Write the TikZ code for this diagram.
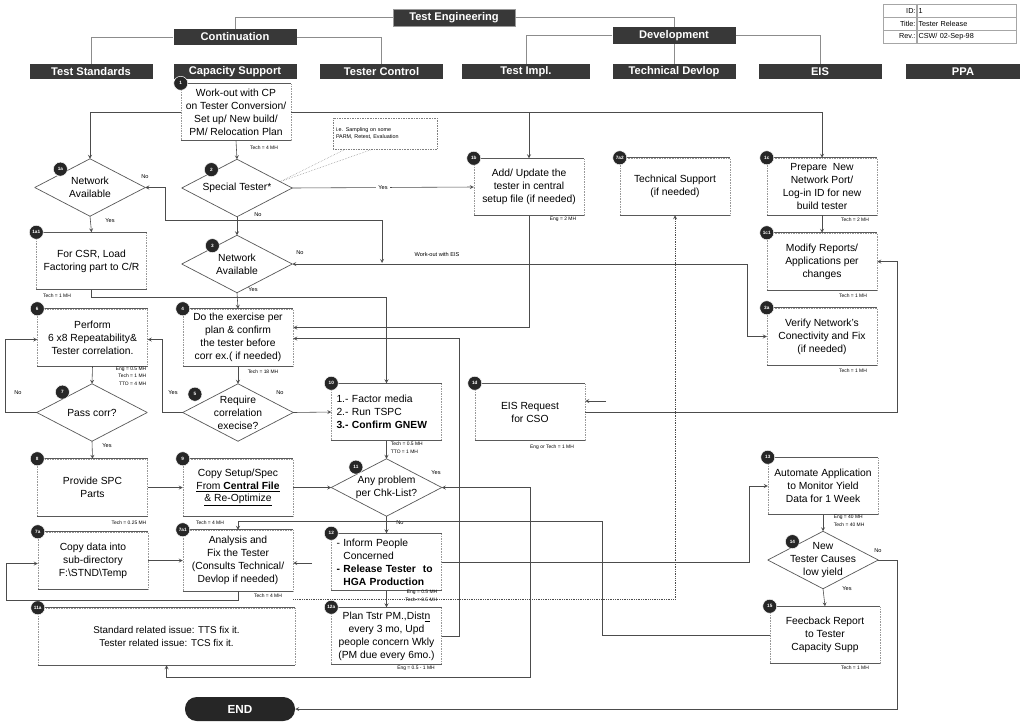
\documentclass[tikz,border=0pt]{standalone}
\usepackage{fontspec}
\setmainfont{Liberation Sans}
\usetikzlibrary{calc}

\begin{document}
\begin{tikzpicture}[x=0.03cm, y=-0.03cm,
    every node/.style={font=\fontsize{8.8}{11}\selectfont},
    hdr/.style={fill=black!78, text=white, font=\fontsize{9.5}{11}\selectfont\bfseries,
      minimum width=123*0.03cm, minimum height=15*0.03cm, inner sep=0pt},
    orgline/.style={draw=black!45, line width=0.5pt},
    boxrule/.style={draw=black!65, solid, line width=0.7pt},
    procbox/.style={rectangle, draw=black!40, densely dotted, line width=0.4pt,
      minimum width=110*0.03cm, minimum height=57*0.03cm, inner sep=1pt, align=center,
      append after command={(\tikzlastnode.north west) edge[boxrule] (\tikzlastnode.north east)
        (\tikzlastnode.south west) edge[boxrule] (\tikzlastnode.south east)}},
    diamrule/.style={draw=black!65, solid, line width=0.6pt},
    decision/.style={rectangle, minimum width=110*0.03cm, minimum height=57*0.03cm,
      inner sep=0pt, align=center,
      append after command={(\tikzlastnode.north) edge[diamrule] (\tikzlastnode.east)
        (\tikzlastnode.east) edge[diamrule] (\tikzlastnode.south)
        (\tikzlastnode.south) edge[diamrule] (\tikzlastnode.west)
        (\tikzlastnode.west) edge[diamrule] (\tikzlastnode.north)}},
    badge/.style={circle, fill=black!85, draw=white, line width=0.4pt, text=white,
      font=\fontsize{4}{4}\selectfont\bfseries, minimum size=14*0.03cm, inner sep=0pt},
    mh/.style={font=\fontsize{4.2}{6.6}\selectfont, inner sep=0.5pt, align=right},
    ans/.style={font=\fontsize{4.8}{5.5}\selectfont, inner sep=0.5pt},
    flow/.style={draw=black!70, line width=0.5pt, -stealth},
    techlink/.style={flow, densely dotted},
    notebox/.style={draw=black!50, densely dotted, align=left, inner sep=2pt,
      minimum width=104*0.03cm, minimum height=31*0.03cm, font=\fontsize{4.6}{6}\selectfont},
    cell/.style={draw=black!35, line width=0.4pt, minimum height=13*0.03cm, inner sep=1pt,
      font=\fontsize{6.2}{7}\selectfont},
    endpill/.style={fill=black!85, text=white, font=\fontsize{10}{12}\selectfont\bfseries,
      minimum width=110*0.03cm, minimum height=24*0.03cm, rounded corners=0.35cm},
  ]
  \fill[white] (0,0) rectangle (1020,721);
  \useasboundingbox (0,0) rectangle (1020,721);

  % organisation headers
  \node[hdr, minimum width=122*0.03cm, minimum height=17*0.03cm, draw=black!40] (te) at (454,17.5) {Test Engineering};
  \node[hdr, minimum height=16*0.03cm] (cont) at (235,37) {Continuation};
  \node[hdr, minimum height=17*0.03cm] (dev) at (674,35.5) {Development};
  \node[hdr] (ts) at (91,71.5) {Test Standards};
  \node[hdr] (cs) at (235,71.5) {Capacity Support};
  \node[hdr] (tc) at (381.5,71.5) {Tester Control};
  \node[hdr, minimum width=128*0.03cm] (ti) at (526,71.5) {Test Impl.};
  \node[hdr] (td) at (674,71.5) {Technical Devlop};
  \node[hdr] (eis) at (820,71.5) {EIS};
  \node[hdr, minimum width=114*0.03cm] (ppa) at (963,71.5) {PPA};
  \draw[orgline] (te.west) -| (cont.north);
  \draw[orgline] (te.east) -| (dev.north);
  \draw[orgline] (cont.west) -| (ts.north);
  \draw[orgline] (cont.east) -| (tc.north);
  \draw[orgline] (dev.west) -| (ti.north);
  \draw[orgline] (dev.east) -| (eis.north);
  \draw[orgline] (dev.south) -- (td.north);

  % title block
  \node[cell, text width=31*0.03cm, align=right] (idl) at (900,10.5) {ID:};
  \node[cell, text width=97*0.03cm, align=left] (idv) at (967,10.5) {1};
  \node[cell, text width=31*0.03cm, align=right] (til) at (900,23.5) {Title:};
  \node[cell, text width=97*0.03cm, align=left] (tiv) at (967,23.5) {Tester Release};
  \node[cell, text width=31*0.03cm, align=right] (rvl) at (900,36.5) {Rev.:};
  \node[cell, text width=97*0.03cm, align=left] (rvv) at (967,36.5) {CSW/ 02-Sep-98};

  % steps
  \node[procbox] (n1) at (236,112) {Work-out with CP\\on Tester Conversion/\\Set up/ New build/\\PM/ Relocation Plan};
  \node[decision] (d1a) at (90,187.5) {Network\\Available};
  \node[decision] (d2) at (237,188) {Special Tester*};
  \node[procbox] (n1b) at (529,187) {Add/ Update the\\tester in central\\setup file (if needed)};
  \node[procbox] (n7a2) at (675,186.5) {Technical Support\\(if needed)};
  \node[procbox] (n1c) at (822,186.5) {Prepare\ \ New\\Network Port/\\Log-in ID for new\\build tester};
  \node[notebox, text width=98*0.03cm] (note) at (385,133.5) {i.e. Sampling on some\\PARM, Retest, Evaluation};

  \node[procbox] (n1a1) at (91.5,261) {For CSR, Load\\Factoring part to C/R};
  \node[decision] (d3) at (237,264) {Network\\Available};
  \node[procbox] (n1c1) at (822,261.5) {Modify Reports/\\Applications per\\changes};

  \node[procbox] (n6) at (92.5,337.5) {Perform\\6 x8 Repeatability\&\\Tester correlation.};
  \node[procbox] (n4) at (238,337.5) {Do the exercise per\\plan \& confirm\\the tester before\\corr ex.( if needed)};
  \node[procbox] (n3a) at (822,336.5) {Verify Network's\\Conectivity and Fix\\(if needed)};

  \node[decision] (d7) at (92,412.5) {Pass corr?};
  \node[decision] (d5) at (238,412.5) {Require\\correlation\\execise?};
  \node[procbox, align=left, text width=100*0.03cm] (n10) at (386.5,412) {1.- Factor media\\2.- Run TSPC\\\textbf{3.- Confirm GNEW}};
  \node[procbox] (n1d) at (530,412) {EIS Request\\for CSO};

  \node[procbox] (n8) at (92.5,487.5) {Provide SPC\\Parts};
  \node[procbox] (n9) at (238,487.5) {Copy Setup/Spec\\\underline{From \textbf{Central File}}\\\underline{\& Re-Optimize}};
  \node[decision] (d11) at (386.5,487.5) {Any problem\\per Chk-List?};
  \node[procbox] (n13) at (823,486) {Automate Application\\to Monitor Yield\\Data for 1 Week};

  \node[procbox] (n7a) at (93,560.5) {Copy data into\\sub-directory\\F:\textbackslash STND\textbackslash Temp};
  \node[procbox, minimum height=61*0.03cm] (n7a1) at (238,560.5) {Analysis and\\Fix the Tester\\(Consults Technical/\\Devlop if needed)};
  \node[procbox, align=left, text width=100*0.03cm] (n12) at (386.5,562) {- Inform People\\\hphantom{- }Concerned\\\textbf{- Release Tester\ \ to}\\\hphantom{- }\textbf{HGA Production}};
  \node[decision] (d14) at (823,560) {New\\Tester Causes\\low yield};

  \node[procbox, minimum width=257*0.03cm, font=\fontsize{8.4}{11}\selectfont] (n11a) at (166.5,636.5) {Standard related issue: TTS fix it.\\Tester related issue: TCS fix it.};
  \node[procbox] (n12a) at (386.5,636) {Plan Tstr PM.,Dist\underline{n}\\every 3 mo, Upd\\people concern Wkly\\(PM due every 6mo.)};
  \node[procbox] (n15) at (825,635) {Feecback Report\\to Tester\\Capacity Supp};

  \node[endpill] (end) at (240,709) {END};

  % step numbers
  \node[badge] (b1) at (n1.north west) {1};
  \node[badge] (b1a) at ($(d1a.north)!0.5!(d1a.west)+(-2,-4)$) {1a};
  \node[badge] (b2) at ($(d2.north)!0.5!(d2.west)+(2,-4)$) {2};
  \node[badge] (b1b) at (n1b.north west) {1b};
  \node[badge] (b7a2) at (n7a2.north west) {7a2};
  \node[badge] (b1c) at (n1c.north west) {1c};
  \node[badge] (b1a1) at (n1a1.north west) {1a1};
  \node[badge] (b3) at ($(d3.north)!0.5!(d3.west)+(3,-4)$) {3};
  \node[badge] (b1c1) at (n1c1.north west) {1c1};
  \node[badge] (b6) at (n6.north west) {6};
  \node[badge] (b4) at (n4.north west) {4};
  \node[badge] (b3a) at (n3a.north west) {3a};
  \node[badge] (b7) at ($(d7.north)!0.5!(d7.west)+(-2,-6)$) {7};
  \node[badge] (b5) at ($(d5.north)!0.78!(d5.west)+(0,-12)$) {5};
  \node[badge] (b10) at (n10.north west) {10};
  \node[badge] (b1d) at (n1d.north west) {1d};
  \node[badge] (b8) at (n8.north west) {8};
  \node[badge] (b9) at (n9.north west) {9};
  \node[badge] (b11) at ($(d11.north)!0.5!(d11.west)+(-3,-6)$) {11};
  \node[badge] (b13) at (n13.north west) {13};
  \node[badge] (b7a) at (n7a.north west) {7a};
  \node[badge] (b7a1) at (n7a1.north west) {7a1};
  \node[badge] (b12) at (n12.north west) {12};
  \node[badge] (b14) at ($(d14.north)!0.5!(d14.west)+(-3,-4)$) {14};
  \node[badge] (b11a) at (n11a.north west) {11a};
  \node[badge] (b12a) at (n12a.north west) {12a};
  \node[badge] (b15) at (n15.north west) {15};

  % man-hours
  \node[mh] (mh1) at (264,148) {Tech = 4 MH};
  \node[mh] (mh1b) at (563,219) {Eng = 2 MH};
  \node[mh] (mh1c) at (855,220) {Tech = 2 MH};
  \node[mh] (mh1a1) at (57,296) {Tech = 1 MH};
  \node[mh] (mh1c1) at (853,296) {Tech = 1 MH};
  \node[mh] (mh3a) at (853,371) {Tech = 1 MH};
  \node[mh, anchor=north east] (mh6) at (147,366) {Eng = 0.5 MH\\Tech = 1 MH\\TTO = 4 MH};
  \node[mh] (mh4) at (263,372) {Tech = 18 MH};
  \node[mh, anchor=north west, align=left] (mh10) at (390,441) {Tech = 0.5 MH\\TTO = 1 MH};
  \node[mh] (mh1d) at (552,447) {Eng or Tech = 1 MH};
  \node[mh] (mh8) at (129,523) {Tech = 0.25 MH};
  \node[mh] (mh9) at (210,523) {Tech = 4 MH};
  \node[mh, anchor=north west, align=left] (mh13) at (833,514) {Eng = 40 MH\\Tech = 40 MH};
  \node[mh] (mh7a1) at (268,596) {Tech = 4 MH};
  \node[mh, anchor=north east] (mh12) at (438,589) {Eng = 0.5 MH\\Tech = 0.5 MH};
  \node[mh] (mh12a) at (416,668) {Eng = 0.5 - 1 MH};
  \node[mh] (mh15) at (855,668) {Tech = 1 MH};

  % connectors
  \draw[flow] (n1.west) -| (d1a.north);
  \draw[flow] (n1.east) -| (n1c.north);
  \draw[flow] (n1.east -| n1b.north) -- (n1b.north);
  \draw[flow] (n1.south) -- (d2.north);
  \draw[densely dotted, draw=black!55] ($(d2.north)!0.78!(d2.east)$) -- ($(note.south west)!0.12!(note.south east)$);
  \draw[densely dotted, draw=black!55] ($(d2.north)!0.78!(d2.east)$) -- ($(note.south west)!0.38!(note.south east)$);
  \draw[flow] (d2.east) -- node[ans, fill=white, inner sep=2pt] (yes2) {Yes} (n1b.west);
  \draw[flow] (d2.south) -- (d3.north);
  \node[ans] (no2) at (258,215) {No};

  \coordinate (nojoin) at (382,263);
  \draw[flow, stealth-stealth] (d1a.east) -- ++(20,0) -- ++(0,33) -| (nojoin);
  \node[ans] (no1a) at (145,177) {No};
  \draw[flow] (d1a.south) -- (n1a1.north);
  \node[ans] (yes1a) at (110,221) {Yes};

  \draw[flow, stealth-stealth] (d3.east) -| ($(n3a.west)+(-19,0)$) -- (n3a.west);
  \node[ans] (no3) at (300,253) {No};
  \node[ans] (wkeis) at (437,254) {Work-out with EIS};
  \draw[flow] (d3.south) -- (n4.north);
  \node[ans] (yes3) at (253,290) {Yes};

  \draw[flow] (n1a1.south) -- ++(0,8) -| (n10.north);
  \draw[flow] (n1b.south) |- ($(n4.east)+(0,-10)$);
  \draw[flow] (n12a.east) -- ++(18,0) |- ($(n4.east)+(0,1)$);
  \draw[flow] (n1c.south) -- (n1c1.north);

  \draw[flow] (n4.south) -- (d5.north);
  \draw[flow] (d5.east) -- (n10.west);
  \node[ans] (no5) at (280,393) {No};
  \draw[flow] (d5.west) -- ++(-20,0) |- ($(n6.east)+(0,2)$);
  \node[ans] (yes5) at (173,393) {Yes};

  \draw[flow] (n6.south) -- (d7.north);
  \draw[flow] (d7.west) -- ++(-31,0) |- ($(n6.west)+(0,2)$);
  \node[ans] (no7) at (18,393) {No};
  \draw[flow] (d7.south) -- (n8.north);
  \node[ans] (yes7) at (107,446) {Yes};

  \draw[flow] (n8.east) -- (n9.west);
  \draw[flow] (n9.east) -- (d11.west);
  \draw[flow] (n10.south) -- (d11.north);
  \draw[flow, stealth-stealth] (d11.east) -- ++(89,0) |- ($(n11a.south)+(0,12)$) -- (n11a.south);
  \node[ans] (yes11) at (436,473) {Yes};
  \draw[flow] (d11.south) -- (n12.north);
  \node[ans] (no11) at (400,523) {No};

  \coordinate (eisin) at (606,401);
  \draw[flow] (eisin) -- (eisin -| n1d.east);
  \draw[flow] (n1d.east) -- ++(312,0) |- (n1c1.east);

  \draw[flow] (n12.south) -- (n12a.north);
  \draw[flow] (n12.east) -| ($(n13.west)+(-18,0)$) -- (n13.west);
  \draw[flow] (n13.south) -- (d14.north);
  \draw[flow] (d14.south) -- (n15.north);
  \node[ans] (yes14) at (847,589) {Yes};
  \draw[flow] (d14.east) -- ++(19,0) |- (end.east);
  \node[ans] (no14) at (878,551) {No};

  \draw[flow] (n15.west) -- ++(-167,0) |- ($(n7a1.north)+(0,-8)$) -- (n7a1.north);
  \draw[techlink] (n7a1.south east) ++(0,8) -| (n7a2.south);
  \draw[flow] (n7a1.south) -- ++(0,9) -| ($(n7a.west)+(-31,3)$) -- ($(n7a.west)+(0,3)$);
  \draw[flow] (n7a.east) -- (n7a1.west);
  \coordinate (anin) at (312,563);
  \draw[flow] (anin) -- (anin -| n7a1.east);
\end{tikzpicture}
\end{document}
